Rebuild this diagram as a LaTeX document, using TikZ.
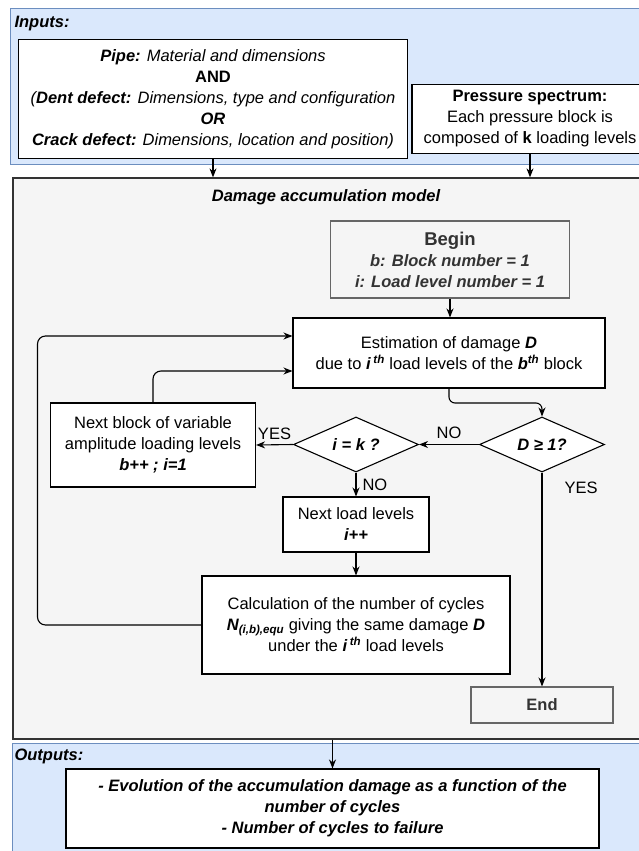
\documentclass[tikz,border=0pt]{standalone}
\usepackage{fontspec}
\setmainfont{Liberation Sans}
\usetikzlibrary{arrows.meta,shapes.geometric}
\newcommand{\figfont}{\fontsize{16.5}{21}\selectfont}
\newcommand{\bi}[1]{{\bfseries\itshape #1}}
\definecolor{panelblue}{HTML}{DAE8FC}
\definecolor{panelline}{HTML}{6C8EBF}
\definecolor{modelgray}{HTML}{F5F5F5}
\definecolor{darktext}{HTML}{333333}
\tikzset{
	box/.style={draw, fill=white, line width=1.1pt, inner sep=0pt, align=center, font=\figfont},
	greybox/.style={box, draw=black!60, fill=modelgray, text=darktext},
	test/.style={box, shape=diamond, aspect=2.27},
	panel/.style={draw=panelline, fill=panelblue, line width=1pt},
	tag/.style={font=\figfont, inner sep=2pt}
}
\begin{document}
\begin{tikzpicture}[x=1pt, y=-1pt, line width=1.1pt, >={Stealth[length=9pt,width=7pt]}]
		\clip (0,0) rectangle (639,851);
		\fill[white] (0,0) rectangle (639,851);

		\draw[panel] (10,9) rectangle (660,164);
		\node[tag, anchor=west, font=\figfont\bfseries\itshape] (inputs) at (12,24) {Inputs:};
		\node[box, minimum width=389, minimum height=119] (pipe) at (213,99) {\bi{Pipe:} {\itshape Material and dimensions}\\ \textbf{AND}\\ {\itshape (}\bi{Dent defect:} {\itshape Dimensions, type and configuration}\\ \bi{OR}\\ \bi{Crack defect:} {\itshape Dimensions, location and position)}};
		\node[box, minimum width=236, minimum height=69] (pressure) at (530,119) {\textbf{Pressure spectrum:}\\ Each pressure block is\\ composed of \textbf{k} loading levels};

		\node[draw=darktext, fill=modelgray, line width=1.3pt, minimum width=650, minimum height=561, inner sep=0pt] (model) at (338,458.5) {};
		\node[tag, font=\figfont\bfseries\itshape] (title) at (326,197) {Damage accumulation model};

		\draw[->] (pipe.south) -- (pipe.south |- model.north);
		\draw[->] (pressure.south) -- (pressure.south |- model.north);

		\node[greybox, minimum width=239, minimum height=77] (begin) at (450,259.5) {{\fontsize{18.5}{21}\selectfont\bfseries Begin}\\ \bi{b: Block number = 1}\\ \bi{i: Load level number = 1}};
		\node[box, minimum width=312, minimum height=70] (estim) at (449,353) {Estimation of damage \bi{D}\\ due to \bi{i}\,\textsuperscript{\bi{th}} load levels of the \bi{b}\textsuperscript{\bi{th}} block};
		\node[test, minimum width=125, minimum height=55] (dtest) at (542,444.5) {\bi{D ≥ 1?}};
		\node[test, minimum width=125, minimum height=55] (ktest) at (356,444.5) {\bi{i = k ?}};
		\node[box, minimum width=205, minimum height=84] (nextblock) at (153,445) {Next block of variable\\ amplitude loading levels\\ \bi{b++ ; i=1}};
		\node[box, minimum width=146, minimum height=55] (nextload) at (356,524.5) {Next load levels\\ \bi{i++}};
		\node[box, minimum width=308, minimum height=98] (calc) at (356,625) {Calculation of the number of cycles\\ \bi{N}\textsubscript{\bi{(i,b),equ}} giving the same damage \bi{D}\\ under the \bi{i}\,\textsuperscript{\bi{th}} load levels};
		\node[greybox, minimum width=142, minimum height=36, font=\figfont\bfseries] (end) at (542,705) {End};
		\coordinate (bend) at (542,403);

		\draw[->] (begin.south) -- (begin.south |- estim.north);
		\draw[->, rounded corners=6pt] (estim.south) |- (bend) -- (dtest.north);
		\draw[->] (dtest.west) -- node[tag, above=3pt] (nolabel) {NO} (ktest.east);
		\draw[->] (ktest.west) -- node[tag, above=3pt] (yeslabel) {YES} (nextblock.east);
		\draw[->] (ktest.south) -- node[tag, right=4pt] (nolabelb) {NO} (nextload.north);
		\draw[->] (nextload.south) -- (calc.north);
		\draw[->] (dtest.south) -- node[tag, pos=0.07, right=20pt] (yeslabelb) {YES} (end.north);
		\draw[->, rounded corners=8pt] (nextblock.north) |- ([yshift=-18pt]estim.west);
		\draw[->, rounded corners=8pt] (calc.west) -| (37.5,400) |- ([yshift=17pt]estim.west);

		\draw[panel] (12,743) rectangle (660,870);
		\node[tag, anchor=west, font=\figfont\bfseries\itshape] (outputs) at (12,756) {Outputs:};
		\node[box, minimum width=533, minimum height=79, font=\figfont\bfseries\itshape] (outbox) at (332.5,808.5) {- Evolution of the accumulation damage as a function of the\\ number of cycles\\ - Number of cycles to failure};
		\draw[->] (outbox.north |- model.south) -- (outbox.north);
	\end{tikzpicture}
\end{document}
